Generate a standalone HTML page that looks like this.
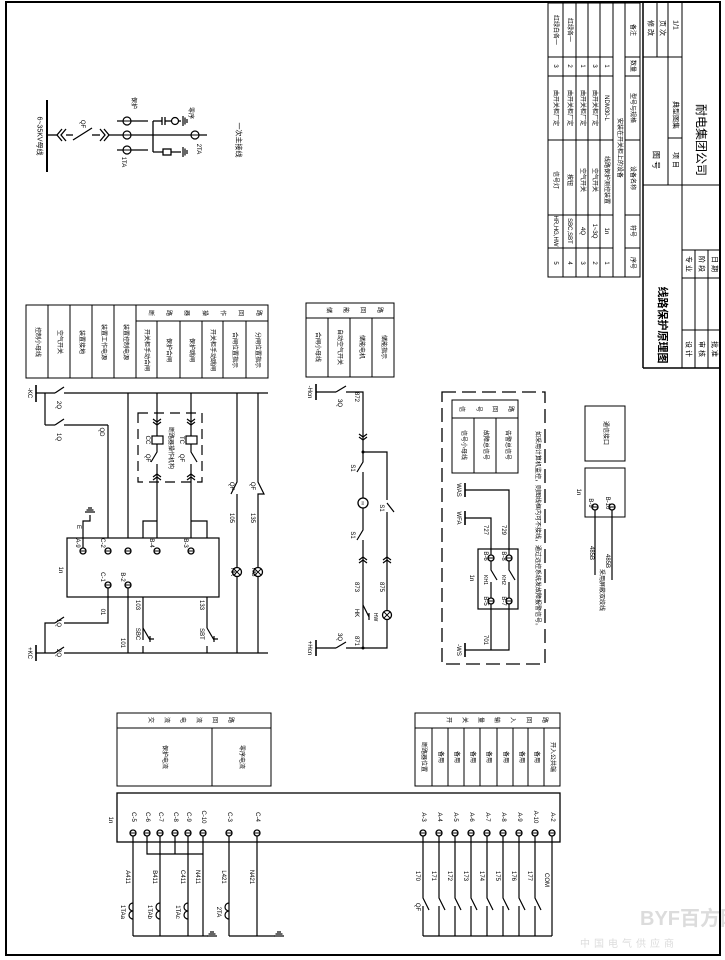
<!DOCTYPE html>
<html><head><meta charset="utf-8"><style>
html,body{margin:0;padding:0;background:#fff}
svg{display:block}
text{font-family:"Liberation Sans","Noto Sans CJK SC",sans-serif;fill:#000}
</style></head><body>
<svg width="725" height="960" viewBox="0 0 725 960" xmlns="http://www.w3.org/2000/svg">
<defs>
<g id="t"><circle r="3" fill="#fff" stroke="#000" stroke-width="1.3"/><line x1="-3" y1="0" x2="3" y2="0" stroke="#000" stroke-width="1"/></g>
<g id="lamp"><circle r="4.5" fill="#fff" stroke="#000" stroke-width="1.3"/><line x1="-3.2" y1="-3.2" x2="3.2" y2="3.2" stroke="#000"/><line x1="-3.2" y1="3.2" x2="3.2" y2="-3.2" stroke="#000"/></g>
<g id="chev" fill="none" stroke="#000" stroke-width="1.2"><path d="M-4,-3 L0,0 L4,-3 M-4,0 L0,3 L4,0"/></g>
<g id="gnd" stroke="#000" stroke-width="1.2"><line x1="0" y1="-5" x2="0" y2="5"/><line x1="2" y1="-3.5" x2="2" y2="3.5"/><line x1="4" y1="-2" x2="4" y2="2"/></g>
</defs>
<g fill="none" stroke="#000" stroke-width="1">
<rect x="6" y="2" width="714" height="953" stroke-width="2"/>
<line x1="643" y1="2" x2="643" y2="368" stroke-width="1.5"/>
<line x1="643" y1="368" x2="720" y2="368" stroke-width="1.5"/>
<line x1="668" y1="2" x2="668" y2="185"/>
<line x1="682" y1="2" x2="682" y2="368"/>
<line x1="657" y1="2" x2="657" y2="57"/>
<line x1="643" y1="57" x2="682" y2="57"/>
<line x1="668" y1="138" x2="682" y2="138"/>
<line x1="643" y1="185" x2="720" y2="185"/>
<line x1="682" y1="250" x2="720" y2="250"/>
<line x1="682" y1="278" x2="720" y2="278"/>
<line x1="682" y1="330" x2="720" y2="330"/>
<line x1="695" y1="250" x2="695" y2="368"/>
<line x1="708" y1="250" x2="708" y2="368"/>
<rect x="548" y="3" width="92" height="274"/>
<line x1="563" y1="3" x2="563" y2="277"/><line x1="576" y1="3" x2="576" y2="277"/><line x1="588" y1="3" x2="588" y2="277"/><line x1="600" y1="3" x2="600" y2="277"/><line x1="613" y1="3" x2="613" y2="277"/><line x1="625" y1="3" x2="625" y2="277"/>
<line x1="548" y1="57" x2="613" y2="57"/><line x1="548" y1="76" x2="613" y2="76"/><line x1="548" y1="140" x2="613" y2="140"/><line x1="548" y1="215" x2="613" y2="215"/><line x1="548" y1="248" x2="613" y2="248"/>
<line x1="625" y1="57" x2="640" y2="57"/><line x1="625" y1="76" x2="640" y2="76"/><line x1="625" y1="140" x2="640" y2="140"/><line x1="625" y1="215" x2="640" y2="215"/><line x1="625" y1="248" x2="640" y2="248"/>
<rect x="26" y="305" width="242" height="73"/>
<line x1="48" y1="305" x2="48" y2="378"/><line x1="70" y1="305" x2="70" y2="378"/><line x1="92" y1="305" x2="92" y2="378"/><line x1="114" y1="305" x2="114" y2="378"/><line x1="136" y1="305" x2="136" y2="378"/>
<line x1="136" y1="321" x2="268" y2="321"/>
<line x1="157" y1="321" x2="157" y2="378"/><line x1="180" y1="321" x2="180" y2="378"/><line x1="202" y1="321" x2="202" y2="378"/><line x1="223" y1="321" x2="223" y2="378"/><line x1="246" y1="321" x2="246" y2="378"/>
<rect x="306" y="303" width="88" height="74"/>
<line x1="306" y1="318" x2="394" y2="318"/>
<line x1="328" y1="318" x2="328" y2="377"/><line x1="350" y1="318" x2="350" y2="377"/><line x1="372" y1="318" x2="372" y2="377"/>
<rect x="442" y="392" width="103" height="272" stroke-dasharray="14,6" stroke-width="1.3"/>
<rect x="452" y="400" width="66" height="73"/>
<line x1="452" y1="418" x2="518" y2="418"/>
<line x1="474" y1="418" x2="474" y2="473"/><line x1="496" y1="418" x2="496" y2="473"/>
<rect x="585" y="406" width="40" height="55"/>
<rect x="585" y="468" width="40" height="49"/>
<rect x="117" y="713" width="154" height="73"/>
<line x1="117" y1="728" x2="271" y2="728"/><line x1="212" y1="728" x2="212" y2="786"/>
<rect x="415" y="713" width="145" height="73"/>
<line x1="415" y1="728" x2="560" y2="728"/>
<line x1="432" y1="728" x2="432" y2="786"/><line x1="448" y1="728" x2="448" y2="786"/><line x1="464" y1="728" x2="464" y2="786"/><line x1="480" y1="728" x2="480" y2="786"/><line x1="497" y1="728" x2="497" y2="786"/><line x1="513" y1="728" x2="513" y2="786"/><line x1="528" y1="728" x2="528" y2="786"/><line x1="544" y1="728" x2="544" y2="786"/>
<rect x="117" y="793" width="443" height="49" stroke-width="1.3"/>
</g>

<g fill="none" stroke="#000" stroke-width="1.3">
<line x1="47" y1="100" x2="47" y2="172" stroke-width="2"/>
<line x1="47" y1="135" x2="57" y2="135"/>
<path d="M62,129 L57,135 L62,141 M66,129 L61,135 L66,141"/>
<line x1="66" y1="135" x2="73" y2="135"/>
<line x1="73" y1="140" x2="92" y2="128"/>
<line x1="92" y1="135" x2="100" y2="135"/>
<path d="M100,129 L105,135 L100,141 M104,129 L109,135 L104,141"/>
<line x1="109" y1="135" x2="207" y2="135"/>
<line x1="117" y1="121" x2="148" y2="121"/><line x1="117" y1="150" x2="148" y2="150"/>
<line x1="153" y1="121" x2="153" y2="152"/>
<line x1="153" y1="121" x2="162" y2="121"/><line x1="162" y1="117" x2="162" y2="125"/><line x1="165" y1="117" x2="165" y2="125"/><line x1="165" y1="121" x2="181" y2="121"/>
<line x1="153" y1="152" x2="181" y2="152"/><rect x="163" y="149" width="8" height="6" fill="#fff"/>
</g>
<g transform="translate(127,121)"><circle r="4" fill="#fff" stroke="#000" stroke-width="1.2"/><line x1="-4" x2="4" stroke="#000"/></g>
<g transform="translate(127,135)"><circle r="4" fill="#fff" stroke="#000" stroke-width="1.2"/><line x1="-4" x2="4" stroke="#000"/></g>
<g transform="translate(127,150)"><circle r="4" fill="#fff" stroke="#000" stroke-width="1.2"/><line x1="-4" x2="4" stroke="#000"/></g>
<g transform="translate(195,135)"><circle r="4" fill="#fff" stroke="#000" stroke-width="1.2"/><line x1="-4" x2="4" stroke="#000"/></g>
<g transform="translate(175,121)"><circle r="3.5" fill="#fff" stroke="#000" stroke-width="1.2"/></g>
<use href="#gnd" x="183" y="121"/><use href="#gnd" x="183" y="152"/>

<g fill="none" stroke="#000" stroke-width="1.2">
<line x1="36" y1="385" x2="36" y2="402" stroke-width="1.6"/>
<line x1="36" y1="393" x2="55" y2="393"/>
<line x1="55" y1="393" x2="64" y2="387"/>
<line x1="64" y1="393" x2="268" y2="393"/>
<line x1="45" y1="393" x2="45" y2="425"/><line x1="45" y1="425" x2="55" y2="425"/><line x1="55" y1="425" x2="64" y2="419"/>
<line x1="64" y1="425" x2="108" y2="425"/><line x1="108" y1="425" x2="108" y2="551"/>
<line x1="128" y1="393" x2="128" y2="551"/>
<line x1="157" y1="393" x2="157" y2="436"/>
<rect x="152" y="436" width="11" height="8" fill="#fff"/>
<path d="M157,444 L157,452 L151,462 M157,464 L157,477"/>
<line x1="157" y1="477" x2="157" y2="551"/>
<line x1="191" y1="393" x2="191" y2="436"/>
<rect x="186" y="436" width="11" height="8" fill="#fff"/>
<path d="M191,444 L191,452 L197,462 M191,464 L191,551"/>
<rect x="138" y="413" width="64" height="69" stroke-dasharray="10,6"/>
<path d="M157,521 L143,521 L143,640 M143,646 L143,653"/>
<path d="M143,628 L150,640 M150,636 L150,642 M150,639 L154,639"/>
<path d="M191,521 L207,521 L207,628 M207,646 L207,653"/>
<path d="M207,628 L214,640 M214,636 L214,642 M214,639 L218,639"/>
<path d="M237,393 L237,482 L231,494 M237,494 L237,653"/>
<path d="M258,393 L258,482 L264,494 L258,494 L258,653"/>
<rect x="67" y="538" width="152" height="59" fill="#fff"/>
<path d="M83,551 L83,521 L90,521 L90,515"/>
<line x1="36" y1="645" x2="36" y2="661" stroke-width="1.6"/>
<line x1="36" y1="653" x2="55" y2="653"/><line x1="55" y1="653" x2="64" y2="647"/><line x1="64" y1="653" x2="268" y2="653"/>
<path d="M45,653 L45,623 L55,623"/><line x1="55" y1="623" x2="64" y2="617"/>
<path d="M64,623 L108,623 L108,585"/>
<line x1="128" y1="585" x2="128" y2="653"/>
</g>
<g transform="translate(90,512) rotate(-90)"><use href="#gnd"/></g>
<use href="#chev" x="157" y="422"/><use href="#chev" x="191" y="422"/>
<g transform="translate(157,477) rotate(180)"><use href="#chev"/></g>
<g transform="translate(191,477) rotate(180)"><use href="#chev"/></g>
<use href="#t" x="83" y="551"/><use href="#t" x="108" y="551"/><use href="#t" x="128" y="551"/><use href="#t" x="157" y="551"/><use href="#t" x="191" y="551"/>
<use href="#t" x="108" y="585"/><use href="#t" x="128" y="585"/>
<use href="#lamp" x="237" y="572"/><use href="#lamp" x="258" y="572"/>

<g fill="none" stroke="#000" stroke-width="1.2">
<line x1="316" y1="384" x2="316" y2="400" stroke-width="1.6"/>
<line x1="316" y1="392" x2="336" y2="392"/><line x1="336" y1="392" x2="346" y2="386"/>
<path d="M346,392 L363,392 L363,462 L357,472 M363,472 L363,530 L357,540 M363,540 L363,648"/>
<path d="M363,452 L387,452 L387,500 M394,512 L387,503 M387,512 L387,648 L363,648"/>
<path d="M363,605 L369,617 M369,613 L369,620"/>
<line x1="316" y1="640" x2="316" y2="656" stroke-width="1.6"/>
<line x1="316" y1="648" x2="336" y2="648"/><line x1="336" y1="648" x2="346" y2="642"/><line x1="346" y1="648" x2="363" y2="648"/>
</g>
<use href="#chev" x="363" y="437"/>
<g transform="translate(363,560) rotate(180)"><use href="#chev"/></g>
<g transform="translate(387,560) rotate(180)"><use href="#chev"/></g>
<circle cx="363" cy="503" r="5" fill="#fff" stroke="#000" stroke-width="1.3"/>
<use href="#lamp" x="387" y="615"/>
<circle cx="363" cy="452" r="1.5"/><circle cx="363" cy="648" r="1.5"/>

<g fill="none" stroke="#000" stroke-width="1.2">
<line x1="465" y1="483" x2="465" y2="497" stroke-width="1.6"/>
<path d="M465,490 L509,490 L509,558"/>
<line x1="465" y1="511" x2="465" y2="525" stroke-width="1.6"/>
<path d="M465,518 L491,518 L491,558"/>
<rect x="478" y="549" width="40" height="60"/>
<path d="M491,561 L491,570 L497,580 M491,582 L491,598"/>
<path d="M509,561 L509,570 L515,580 M509,582 L509,598"/>
<line x1="465" y1="643" x2="465" y2="657" stroke-width="1.6"/>
<path d="M465,650 L509,650 L509,601 M491,650 L491,601"/>
<line x1="595" y1="507" x2="595" y2="575"/><line x1="612" y1="507" x2="612" y2="580"/>
</g>
<use href="#t" x="491" y="558"/><use href="#t" x="509" y="558"/><use href="#t" x="491" y="601"/><use href="#t" x="509" y="601"/>
<use href="#t" x="595" y="507"/><use href="#t" x="612" y="507"/>

<g fill="none" stroke="#000" stroke-width="1.2">
<line x1="133" y1="833" x2="133" y2="936"/><line x1="160" y1="833" x2="160" y2="936"/><line x1="188" y1="833" x2="188" y2="936"/><line x1="203" y1="833" x2="203" y2="936"/>
<path d="M147,833 L147,854 L203,854 M175,833 L175,854"/>
<line x1="133" y1="936" x2="208" y2="936"/>
<line x1="229" y1="833" x2="229" y2="936"/><line x1="257" y1="833" x2="257" y2="936"/><line x1="229" y1="936" x2="275" y2="936"/>
<path d="M133,903 a4,4 0 0 0 0,8 a4,4 0 0 0 0,8"/>
<path d="M160,903 a4,4 0 0 0 0,8 a4,4 0 0 0 0,8"/>
<path d="M188,903 a4,4 0 0 0 0,8 a4,4 0 0 0 0,8"/>
<path d="M229,903 a4,4 0 0 0 0,8 a4,4 0 0 0 0,8"/>
<path d="M423,833 L423,898 L429,910 M423,906 L423,936"/>
<path d="M439,833 L439,898 L445,910 M439,906 L439,936"/>
<path d="M455,833 L455,898 L461,910 M455,906 L455,936"/>
<path d="M471,833 L471,898 L477,910 M471,906 L471,936"/>
<path d="M487,833 L487,898 L493,910 M487,906 L487,936"/>
<path d="M503,833 L503,898 L509,910 M503,906 L503,936"/>
<path d="M519,833 L519,898 L525,910 M519,906 L519,936"/>
<path d="M535,833 L535,898 L541,910 M535,906 L535,936"/>
<line x1="552" y1="833" x2="552" y2="936"/>
<line x1="423" y1="936" x2="552" y2="936"/>
</g>
<g transform="translate(212,936) rotate(-90)"><use href="#gnd"/></g>
<g transform="translate(279,936) rotate(-90)"><use href="#gnd"/></g>
<use href="#t" x="133" y="833"/><use href="#t" x="147" y="833"/><use href="#t" x="160" y="833"/><use href="#t" x="175" y="833"/><use href="#t" x="188" y="833"/><use href="#t" x="203" y="833"/><use href="#t" x="229" y="833"/><use href="#t" x="257" y="833"/>
<use href="#t" x="423" y="833"/><use href="#t" x="439" y="833"/><use href="#t" x="455" y="833"/><use href="#t" x="471" y="833"/><use href="#t" x="487" y="833"/><use href="#t" x="503" y="833"/><use href="#t" x="519" y="833"/><use href="#t" x="535" y="833"/><use href="#t" x="552" y="833"/>

<g font-size="6" text-anchor="middle" dominant-baseline="central">
<text transform="translate(39,136) rotate(90)" font-size="7">6~35KV母线</text>
<text transform="translate(82,124) rotate(90)">QF</text>
<text transform="translate(133,103) rotate(90)">保护</text>
<text transform="translate(123,162) rotate(90)">1TA</text>
<text transform="translate(190,113) rotate(90)">零序</text>
<text transform="translate(198,149) rotate(90)">2TA</text>
<text transform="translate(238,140) rotate(90)" font-size="7">一次主接线</text>
<text transform="translate(37,342) rotate(90)">控制小母线</text>
<text transform="translate(59,342) rotate(90)">空气开关</text>
<text transform="translate(81,342) rotate(90)">装置接地</text>
<text transform="translate(103,342) rotate(90)">装置工作电源</text>
<text transform="translate(125,342) rotate(90)">装置控制电源</text>
<text transform="translate(150,313) rotate(90)">断</text><text transform="translate(168,313) rotate(90)">路</text><text transform="translate(186,313) rotate(90)">器</text><text transform="translate(204,313) rotate(90)">操</text><text transform="translate(222,313) rotate(90)">作</text><text transform="translate(240,313) rotate(90)">回</text><text transform="translate(258,313) rotate(90)">路</text>
<text transform="translate(146,350) rotate(90)">开关柜手动合闸</text>
<text transform="translate(168,350) rotate(90)">保护合闸</text>
<text transform="translate(191,350) rotate(90)">保护跳闸</text>
<text transform="translate(212,350) rotate(90)">开关柜手动跳闸</text>
<text transform="translate(234,350) rotate(90)">合闸位置指示</text>
<text transform="translate(257,350) rotate(90)">分闸位置指示</text>
<text transform="translate(29,393) rotate(90)">-KC</text>
<text transform="translate(58,405) rotate(90)">2Q</text>
<text transform="translate(58,437) rotate(90)">1Q</text>
<text transform="translate(101,432) rotate(90)">QD</text>
<text transform="translate(147,440) rotate(90)">CC</text>
<text transform="translate(181,440) rotate(90)">TC</text>
<text transform="translate(147,458) rotate(90)">QF</text>
<text transform="translate(181,458) rotate(90)">QF</text>
<text transform="translate(170,448) rotate(90)">断路器操作机构</text>
<text transform="translate(231,486) rotate(90)">QF</text>
<text transform="translate(252,486) rotate(90)">QF</text>
<text transform="translate(231,518) rotate(90)">105</text>
<text transform="translate(252,518) rotate(90)">135</text>
<text transform="translate(232,572) rotate(90)">HR</text>
<text transform="translate(253,572) rotate(90)">HG</text>
<text transform="translate(78,527) rotate(90)">E</text>
<text transform="translate(60,570) rotate(90)">1n</text>
<text transform="translate(77,543) rotate(90)">A-9</text>
<text transform="translate(102,543) rotate(90)">C-2</text>
<text transform="translate(151,543) rotate(90)">B-4</text>
<text transform="translate(185,543) rotate(90)">B-3</text>
<text transform="translate(102,577) rotate(90)">C-1</text>
<text transform="translate(122,577) rotate(90)">B-2</text>
<text transform="translate(102,612) rotate(90)">01</text>
<text transform="translate(122,643) rotate(90)">101</text>
<text transform="translate(137,605) rotate(90)">103</text>
<text transform="translate(201,605) rotate(90)">133</text>
<text transform="translate(137,634) rotate(90)">SBC</text>
<text transform="translate(201,634) rotate(90)">SBT</text>
<text transform="translate(58,623) rotate(90)">1Q</text>
<text transform="translate(58,653) rotate(90)">2Q</text>
<text transform="translate(29,653) rotate(90)">+KC</text>
<text transform="translate(328,310) rotate(90)">储</text><text transform="translate(345,310) rotate(90)">能</text><text transform="translate(362,310) rotate(90)">回</text><text transform="translate(379,310) rotate(90)">路</text>
<text transform="translate(317,347) rotate(90)">合闸小母线</text>
<text transform="translate(339,347) rotate(90)">自动空气开关</text>
<text transform="translate(361,347) rotate(90)">储能电机</text>
<text transform="translate(383,347) rotate(90)">储能指示</text>
<text transform="translate(309,392) rotate(90)">-Hcn</text>
<text transform="translate(339,403) rotate(90)">3Q</text>
<text transform="translate(356,397) rotate(90)">872</text>
<text transform="translate(352,468) rotate(90)">S1</text>
<text transform="translate(352,535) rotate(90)">S1</text>
<text transform="translate(381,508) rotate(90)">S1</text>
<text transform="translate(363,503) rotate(90)" font-size="4">M</text>
<text transform="translate(356,587) rotate(90)">873</text>
<text transform="translate(381,587) rotate(90)">875</text>
<text transform="translate(356,613) rotate(90)">HK</text>
<text transform="translate(375,617) rotate(90)" font-size="5">HW</text>
<text transform="translate(356,641) rotate(90)">871</text>
<text transform="translate(339,637) rotate(90)">3Q</text>
<text transform="translate(309,648) rotate(90)">+Hcn</text>
<text transform="translate(461,409) rotate(90)">信</text><text transform="translate(478,409) rotate(90)">号</text><text transform="translate(494,409) rotate(90)">回</text><text transform="translate(510,409) rotate(90)">路</text>
<text transform="translate(463,445) rotate(90)">信号小母线</text>
<text transform="translate(485,445) rotate(90)">故障总信号</text>
<text transform="translate(507,445) rotate(90)">告警总信号</text>
<text transform="translate(458,490) rotate(90)">WAS</text>
<text transform="translate(458,518) rotate(90)">WFA</text>
<text transform="translate(485,530) rotate(90)">727</text>
<text transform="translate(503,530) rotate(90)">729</text>
<text transform="translate(471,578) rotate(90)">1n</text>
<text transform="translate(485,556) rotate(90)">B-6</text>
<text transform="translate(503,556) rotate(90)">B-8</text>
<text transform="translate(485,601) rotate(90)">B-5</text>
<text transform="translate(503,601) rotate(90)">B-7</text>
<text transform="translate(485,580) rotate(90)" font-size="5">KH1</text>
<text transform="translate(503,580) rotate(90)" font-size="5">KH2</text>
<text transform="translate(485,640) rotate(90)">701</text>
<text transform="translate(458,650) rotate(90)">-WS</text>
<text transform="translate(537,530) rotate(90)">如采用计算机监控，则图线框内可不接线，通过远控系统发故障报警信号。</text>
<text transform="translate(605,433) rotate(90)">通信接口</text>
<text transform="translate(578,492) rotate(90)">1n</text>
<text transform="translate(590,503) rotate(90)">B-9</text>
<text transform="translate(607,503) rotate(90)">B-10</text>
<text transform="translate(591,553) rotate(90)">485B</text>
<text transform="translate(607,561) rotate(90)">485B</text>
<text transform="translate(601,590) rotate(90)">采用屏蔽双绞线</text>
<text transform="translate(150,720) rotate(90)">交</text><text transform="translate(166,720) rotate(90)">流</text><text transform="translate(182,720) rotate(90)">电</text><text transform="translate(198,720) rotate(90)">流</text><text transform="translate(214,720) rotate(90)">回</text><text transform="translate(230,720) rotate(90)">路</text>
<text transform="translate(164,757) rotate(90)">保护电流</text>
<text transform="translate(241,757) rotate(90)">零序电流</text>
<text transform="translate(448,720) rotate(90)">开</text><text transform="translate(464,720) rotate(90)">关</text><text transform="translate(480,720) rotate(90)">量</text><text transform="translate(496,720) rotate(90)">输</text><text transform="translate(512,720) rotate(90)">入</text><text transform="translate(528,720) rotate(90)">回</text><text transform="translate(544,720) rotate(90)">路</text>
<text transform="translate(423,757) rotate(90)">断路器位置</text>
<text transform="translate(440,757) rotate(90)">备用</text>
<text transform="translate(456,757) rotate(90)">备用</text>
<text transform="translate(472,757) rotate(90)">备用</text>
<text transform="translate(488,757) rotate(90)">备用</text>
<text transform="translate(505,757) rotate(90)">备用</text>
<text transform="translate(521,757) rotate(90)">备用</text>
<text transform="translate(536,757) rotate(90)">备用</text>
<text transform="translate(552,757) rotate(90)">开入公共端</text>
<text transform="translate(110,820) rotate(90)">1n</text>
<text transform="translate(133,817) rotate(90)">C-5</text>
<text transform="translate(147,817) rotate(90)">C-6</text>
<text transform="translate(160,817) rotate(90)">C-7</text>
<text transform="translate(175,817) rotate(90)">C-8</text>
<text transform="translate(188,817) rotate(90)">C-9</text>
<text transform="translate(203,817) rotate(90)">C-10</text>
<text transform="translate(229,817) rotate(90)">C-3</text>
<text transform="translate(257,817) rotate(90)">C-4</text>
<text transform="translate(423,817) rotate(90)">A-3</text>
<text transform="translate(439,817) rotate(90)">A-4</text>
<text transform="translate(455,817) rotate(90)">A-5</text>
<text transform="translate(471,817) rotate(90)">A-6</text>
<text transform="translate(487,817) rotate(90)">A-7</text>
<text transform="translate(503,817) rotate(90)">A-8</text>
<text transform="translate(519,817) rotate(90)">A-9</text>
<text transform="translate(535,817) rotate(90)">A-10</text>
<text transform="translate(552,817) rotate(90)">A-2</text>
<text transform="translate(127,877) rotate(90)">A411</text>
<text transform="translate(154,877) rotate(90)">B411</text>
<text transform="translate(182,877) rotate(90)">C411</text>
<text transform="translate(197,877) rotate(90)">N411</text>
<text transform="translate(223,877) rotate(90)">L421</text>
<text transform="translate(251,877) rotate(90)">N421</text>
<text transform="translate(122,912) rotate(90)">1TAa</text>
<text transform="translate(149,912) rotate(90)">1TAb</text>
<text transform="translate(177,912) rotate(90)">1TAc</text>
<text transform="translate(218,912) rotate(90)">2TA</text>
<text transform="translate(417,876) rotate(90)">170</text>
<text transform="translate(433,876) rotate(90)">171</text>
<text transform="translate(449,876) rotate(90)">172</text>
<text transform="translate(465,876) rotate(90)">173</text>
<text transform="translate(481,876) rotate(90)">174</text>
<text transform="translate(497,876) rotate(90)">175</text>
<text transform="translate(513,876) rotate(90)">176</text>
<text transform="translate(529,876) rotate(90)">177</text>
<text transform="translate(546,880) rotate(90)">COM</text>
<text transform="translate(417,907) rotate(90)">QF</text>
<text transform="translate(555,263) rotate(90)">5</text><text transform="translate(555,231) rotate(90)">HR,HG,HW</text><text transform="translate(555,180) rotate(90)">信号灯</text><text transform="translate(555,108) rotate(90)">由开关柜厂定</text><text transform="translate(555,66) rotate(90)">3</text><text transform="translate(555,30) rotate(90)">红绿白各一</text>
<text transform="translate(569,263) rotate(90)">4</text><text transform="translate(569,231) rotate(90)">SBC,SBT</text><text transform="translate(569,180) rotate(90)">按钮</text><text transform="translate(569,108) rotate(90)">由开关柜厂定</text><text transform="translate(569,66) rotate(90)">2</text><text transform="translate(569,30) rotate(90)">红绿各一</text>
<text transform="translate(582,263) rotate(90)">3</text><text transform="translate(582,231) rotate(90)">4Q</text><text transform="translate(582,180) rotate(90)">空气开关</text><text transform="translate(582,108) rotate(90)">由开关柜厂定</text><text transform="translate(582,66) rotate(90)">1</text>
<text transform="translate(594,263) rotate(90)">2</text><text transform="translate(594,231) rotate(90)">1~3Q</text><text transform="translate(594,180) rotate(90)">空气开关</text><text transform="translate(594,108) rotate(90)">由开关柜厂定</text><text transform="translate(594,66) rotate(90)">3</text>
<text transform="translate(606,263) rotate(90)">1</text><text transform="translate(606,231) rotate(90)">1n</text><text transform="translate(606,180) rotate(90)">线路保护测控装置</text><text transform="translate(606,108) rotate(90)">NDM30-L</text><text transform="translate(606,66) rotate(90)">1</text>
<text transform="translate(619,148) rotate(90)">安装在开关柜上的设备</text>
<text transform="translate(632,263) rotate(90)">序号</text><text transform="translate(632,231) rotate(90)">符号</text><text transform="translate(632,178) rotate(90)">设备名称</text><text transform="translate(632,108) rotate(90)">型号与规格</text><text transform="translate(632,66) rotate(90)">数量</text><text transform="translate(632,30) rotate(90)">备注</text>
<text transform="translate(650,28) rotate(90)" font-size="7">修 改</text>
<text transform="translate(662,28) rotate(90)" font-size="7">页 次</text>
<text transform="translate(675,25) rotate(90)" font-size="7">1/1</text>
<text transform="translate(656,160) rotate(90)" font-size="8">图 号</text>
<text transform="translate(675,160) rotate(90)" font-size="7">项 目</text>
<text transform="translate(675,115) rotate(90)" font-size="7">典型图集</text>
<text transform="translate(701,140) rotate(90)" font-size="12">耐电集团公司</text>
<text transform="translate(662,325) rotate(90)" font-size="11" font-weight="bold">线路保护原理图</text>
<text transform="translate(688,264) rotate(90)" font-size="7">专 业</text>
<text transform="translate(701,264) rotate(90)" font-size="7">阶 段</text>
<text transform="translate(714,264) rotate(90)" font-size="7">日 期</text>
<text transform="translate(688,349) rotate(90)" font-size="7">设 计</text>
<text transform="translate(701,349) rotate(90)" font-size="7">审 核</text>
<text transform="translate(714,349) rotate(90)" font-size="7">批 准</text>
</g>
<text x="640" y="925" font-size="20" font-weight="bold" style="fill:#dcdcdc">BYF百方网</text>
<text x="580" y="947" font-size="10" style="fill:#dcdcdc" letter-spacing="4">中国电气供应商</text>
</svg>
</body></html>
